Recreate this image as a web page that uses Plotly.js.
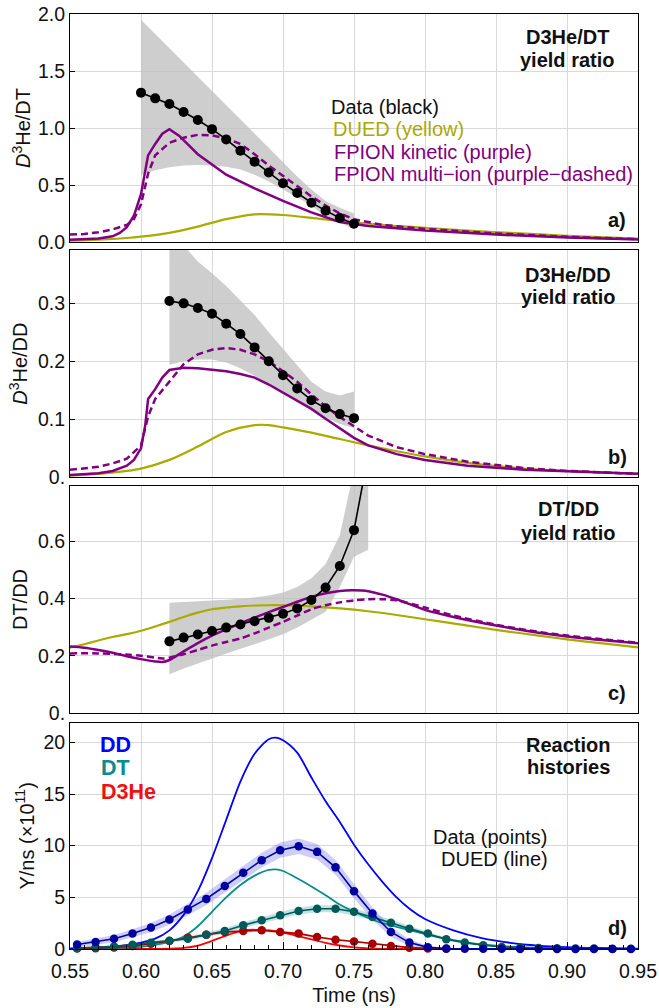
<!DOCTYPE html>
<html>
<head>
<meta charset="utf-8">
<script src="https://cdn.plot.ly/plotly-3.0.1.min.js"></script>
<style>html,body{margin:0;padding:0;background:#fff;}#chart{width:659px;height:1008px;}</style>
</head>
<body>
<div id="chart"></div>
<script>
// ---------- Panel a: D3He/DT yield ratio ----------
const tA_data = [0.60,0.61,0.62,0.63,0.64,0.65,0.66,0.67,0.68,0.69,0.70,0.71,0.72,0.73,0.74,0.75];
const a_data  = [1.31,1.26,1.21,1.14,1.07,0.99,0.90,0.80,0.705,0.61,0.515,0.43,0.345,0.275,0.21,0.16];
const a_bandHi = [1.95,1.825,1.70,1.575,1.45,1.325,1.20,1.075,0.95,0.825,0.70,0.575,0.46,0.36,0.30,0.25];
const a_bandLo = [0.585,0.63,0.655,0.67,0.675,0.672,0.66,0.635,0.59,0.53,0.46,0.39,0.32,0.22,0.17,0.11];
const tA_dued = [0.55,0.57,0.59,0.60,0.62,0.64,0.66,0.68,0.70,0.72,0.74,0.76,0.78,0.80,0.83,0.86,0.90,0.95];
const a_dued  = [0.012,0.02,0.035,0.047,0.08,0.135,0.20,0.243,0.237,0.212,0.183,0.16,0.14,0.125,0.10,0.08,0.055,0.03];
const tA_kin = [0.55,0.56,0.57,0.58,0.585,0.59,0.595,0.60,0.605,0.61,0.615,0.62,0.627,0.64,0.66,0.68,0.70,0.72,0.74,0.76,0.78,0.80,0.85,0.90,0.95];
const a_kin  = [0.02,0.024,0.03,0.05,0.08,0.13,0.23,0.42,0.76,0.86,0.95,0.99,0.93,0.77,0.59,0.47,0.36,0.26,0.175,0.14,0.12,0.10,0.065,0.04,0.022];
const tA_multi = [0.55,0.56,0.57,0.58,0.59,0.595,0.60,0.605,0.61,0.62,0.63,0.64,0.65,0.66,0.67,0.68,0.69,0.70,0.71,0.72,0.73,0.74,0.75,0.77,0.80,0.85,0.90,0.95];
const a_multi  = [0.065,0.07,0.085,0.11,0.15,0.2,0.33,0.6,0.76,0.87,0.915,0.94,0.935,0.91,0.86,0.77,0.67,0.58,0.49,0.40,0.32,0.25,0.20,0.15,0.115,0.075,0.045,0.025];

// ---------- Panel b: D3He/DD yield ratio ----------
const tB_data = [0.62,0.63,0.64,0.65,0.66,0.67,0.68,0.69,0.70,0.71,0.72,0.73,0.74,0.75];
const b_data  = [0.304,0.300,0.292,0.282,0.265,0.247,0.224,0.200,0.176,0.153,0.133,0.119,0.109,0.102];
const b_bandHi = [0.45,0.40,0.372,0.352,0.33,0.305,0.28,0.25,0.222,0.193,0.165,0.148,0.141,0.148];
const b_bandLo = [0.194,0.20,0.203,0.203,0.198,0.188,0.175,0.16,0.145,0.13,0.116,0.103,0.092,0.085];
const tB_dued = [0.55,0.57,0.59,0.60,0.62,0.64,0.66,0.68,0.69,0.70,0.72,0.74,0.76,0.78,0.80,0.83,0.87,0.90,0.95];
const b_dued  = [0.003,0.006,0.011,0.015,0.03,0.053,0.078,0.09,0.09,0.086,0.077,0.066,0.055,0.045,0.036,0.025,0.015,0.011,0.006];
const tB_kin = [0.55,0.56,0.57,0.58,0.59,0.595,0.60,0.603,0.605,0.61,0.615,0.62,0.63,0.64,0.65,0.66,0.67,0.68,0.69,0.70,0.71,0.72,0.73,0.74,0.75,0.76,0.78,0.80,0.83,0.87,0.90,0.95];
const b_kin  = [0.004,0.005,0.007,0.011,0.02,0.03,0.05,0.09,0.135,0.152,0.172,0.185,0.189,0.188,0.186,0.183,0.178,0.172,0.16,0.146,0.133,0.118,0.101,0.084,0.068,0.055,0.04,0.03,0.02,0.013,0.01,0.006];
const tB_multi = [0.55,0.56,0.57,0.58,0.59,0.60,0.605,0.61,0.62,0.63,0.64,0.65,0.66,0.67,0.68,0.69,0.70,0.71,0.72,0.73,0.74,0.75,0.76,0.78,0.80,0.83,0.87,0.90,0.95];
const b_multi  = [0.013,0.015,0.018,0.024,0.032,0.055,0.105,0.135,0.165,0.195,0.212,0.22,0.223,0.22,0.212,0.20,0.183,0.165,0.143,0.122,0.104,0.088,0.072,0.052,0.04,0.027,0.016,0.011,0.006];

// ---------- Panel c: DT/DD yield ratio ----------
const tC_data = [0.62,0.63,0.64,0.65,0.66,0.67,0.68,0.69,0.70,0.71,0.72,0.73,0.74,0.75,0.76];
const c_data  = [0.25,0.263,0.274,0.286,0.298,0.309,0.32,0.332,0.346,0.365,0.394,0.438,0.513,0.638,0.90];
const c_bandHi = [0.385,0.387,0.39,0.392,0.395,0.399,0.403,0.41,0.42,0.44,0.47,0.52,0.62,0.85,1.0];
const c_bandLo = [0.135,0.155,0.172,0.19,0.207,0.224,0.24,0.257,0.275,0.298,0.325,0.353,0.44,0.545,0.57];
const tC_dued = [0.55,0.56,0.57,0.58,0.59,0.60,0.61,0.62,0.63,0.64,0.65,0.66,0.67,0.68,0.69,0.70,0.72,0.74,0.76,0.78,0.80,0.83,0.85,0.88,0.90,0.93,0.95];
const c_dued  = [0.228,0.24,0.253,0.265,0.275,0.287,0.302,0.318,0.335,0.35,0.362,0.368,0.372,0.375,0.376,0.376,0.372,0.365,0.355,0.342,0.327,0.305,0.29,0.27,0.257,0.24,0.229];
const tC_kin = [0.55,0.56,0.57,0.58,0.59,0.60,0.61,0.615,0.62,0.63,0.64,0.65,0.66,0.67,0.68,0.69,0.70,0.71,0.72,0.73,0.74,0.75,0.76,0.77,0.78,0.80,0.82,0.85,0.88,0.90,0.93,0.95];
const c_kin  = [0.232,0.228,0.22,0.21,0.198,0.188,0.18,0.178,0.185,0.215,0.244,0.27,0.292,0.313,0.333,0.352,0.37,0.388,0.405,0.418,0.426,0.428,0.425,0.413,0.397,0.36,0.335,0.305,0.28,0.267,0.252,0.243];
const tC_multi = [0.55,0.57,0.59,0.60,0.61,0.615,0.62,0.63,0.64,0.65,0.66,0.67,0.68,0.69,0.70,0.71,0.72,0.73,0.74,0.75,0.76,0.77,0.78,0.80,0.82,0.85,0.88,0.90,0.93,0.95];
const c_multi  = [0.208,0.208,0.204,0.2,0.193,0.19,0.193,0.205,0.22,0.235,0.248,0.26,0.278,0.298,0.318,0.34,0.362,0.376,0.386,0.393,0.397,0.397,0.393,0.368,0.34,0.308,0.283,0.27,0.255,0.245];

// ---------- Panel d: reaction histories (Y/ns x1e11) ----------
const tD_data = [0.555,0.568,0.581,0.594,0.607,0.620,0.633,0.646,0.659,0.672,0.685,0.698,0.711,0.724,0.737,0.750,0.763,0.776,0.789,0.802,0.815,0.828,0.841,0.854,0.867,0.880,0.893,0.906,0.919,0.932,0.945];
const dd_data = [0.43,0.68,1.0,1.5,2.07,2.85,3.82,4.85,6.1,7.37,8.6,9.56,9.95,9.4,7.9,5.6,3.43,1.65,0.62,0.16,0.05,0.03,0.02,0.02,0.01,0.01,0.01,0.01,0.01,0.01,0.01];
const dd_err  = [0.25,0.3,0.35,0.4,0.45,0.5,0.55,0.6,0.65,0.7,0.72,0.74,0.75,0.75,0.72,0.68,0.6,0.48,0.32,0.15,0.06,0.03,0.02,0.02,0.02,0.02,0.02,0.02,0.02,0.02,0.02];
const dt_data = [0.1,0.15,0.25,0.42,0.6,0.8,1.0,1.38,1.75,2.3,2.78,3.27,3.68,3.9,3.9,3.6,3.1,2.55,1.97,1.49,0.94,0.62,0.36,0.2,0.13,0.1,0.07,0.05,0.04,0.03,0.02];
const dt_err  = [0.05,0.07,0.09,0.12,0.15,0.18,0.2,0.22,0.25,0.28,0.3,0.32,0.33,0.34,0.34,0.33,0.3,0.27,0.23,0.19,0.14,0.1,0.07,0.05,0.04,0.03,0.03,0.02,0.02,0.02,0.02];
const tD_d3heData = [0.555,0.568,0.581,0.594,0.607,0.620,0.633,0.646,0.659,0.672,0.685,0.698,0.711,0.724,0.737,0.750,0.763,0.776,0.789,0.802,0.815];
const d3he_data = [0.05,0.08,0.15,0.3,0.5,0.78,1.1,1.38,1.65,1.75,1.81,1.65,1.49,1.16,0.9,0.72,0.5,0.29,0.13,0.06,0.03];
const d3he_err  = [0.03,0.04,0.05,0.06,0.08,0.1,0.12,0.13,0.14,0.15,0.15,0.15,0.14,0.12,0.1,0.09,0.07,0.05,0.03,0.02,0.02];
const tD_dd = [0.55,0.56,0.57,0.58,0.59,0.60,0.61,0.62,0.63,0.64,0.65,0.66,0.67,0.68,0.69,0.695,0.70,0.71,0.72,0.73,0.74,0.75,0.76,0.77,0.78,0.79,0.80,0.82,0.84,0.86,0.88,0.90,0.92,0.95];
const dd_dued = [0.05,0.08,0.13,0.22,0.38,0.62,1.0,1.8,3.3,5.6,8.8,12.5,16.2,18.9,20.3,20.45,20.2,19.0,16.6,14.3,12.3,10.1,8.2,6.5,5.0,3.8,2.9,1.8,1.05,0.6,0.33,0.18,0.1,0.04];
const tD_dt = [0.55,0.57,0.59,0.60,0.61,0.62,0.63,0.64,0.65,0.66,0.67,0.68,0.69,0.695,0.70,0.71,0.72,0.73,0.74,0.75,0.76,0.77,0.78,0.79,0.80,0.81,0.82,0.83,0.84,0.86,0.88,0.90,0.95];
const dt_dued = [0.02,0.05,0.13,0.22,0.4,0.7,1.2,2.2,3.6,5.0,6.2,7.1,7.65,7.7,7.55,6.85,6.05,5.2,4.3,3.6,3.0,2.5,2.15,1.8,1.45,1.12,0.85,0.62,0.45,0.22,0.1,0.05,0.01];
const tD_d3he = [0.55,0.60,0.62,0.63,0.64,0.65,0.66,0.67,0.675,0.68,0.69,0.70,0.71,0.72,0.73,0.74,0.75,0.76,0.78,0.80,0.95];
const d3he_dued = [0,0.01,0.04,0.1,0.33,0.78,1.3,1.72,1.84,1.86,1.8,1.58,1.27,0.93,0.6,0.34,0.16,0.06,0.01,0,0];

// ---------- tick labels ----------
const xTickVals = [0.55,0.60,0.65,0.70,0.75,0.80,0.85,0.90,0.95];
const xTickText = ['0.55','0.60','0.65','0.70','0.75','0.80','0.85','0.90','0.95'];
const aTickVals = [0,0.5,1.0,1.5,2.0];
const aTickText = ['0.0','0.5','1.0','1.5','2.0'];
const bTickVals = [0,0.1,0.2,0.3];
const bTickText = ['0.','0.1','0.2','0.3'];
const cTickVals = [0,0.2,0.4,0.6];
const cTickText = ['0.','0.2','0.4','0.6'];
const dTickVals = [0,5,10,15,20];
const dTickText = ['0','5','10','15','20'];

// ---------- styles ----------
const YELLOW = '#aaaa00', PURPLE = '#800080', GRAY = 'rgba(190,190,190,0.75)';
const FONT = 'Liberation Sans, Arial, sans-serif';

function band(t, hi, lo, xa, ya, color) {
  return {x: t.concat(t.slice().reverse()), y: hi.concat(lo.slice().reverse()), xaxis: xa, yaxis: ya,
    type: 'scatter', mode: 'lines', fill: 'toself', fillcolor: color, line: {width: 0}, hoverinfo: 'skip'};
}
function curve(t, v, xa, ya, color, width, dash, shape) {
  return {x: t, y: v, xaxis: xa, yaxis: ya, type: 'scatter', mode: 'lines',
    line: {color: color, width: width, dash: dash || 'solid', shape: shape || 'spline', smoothing: 0.8}};
}
function pts(t, v, xa, ya, color, size, clip) {
  return {x: t, y: v, xaxis: xa, yaxis: ya, type: 'scatter', mode: 'lines+markers', cliponaxis: clip,
    line: {color: color, width: 1.6}, marker: {color: color, size: size}};
}
function addErr(v, e, s) { return v.map((y, i) => y + s * e[i]); }

const traces = [
  // a
  band(tA_data, a_bandHi, a_bandLo, 'x', 'y', GRAY),
  curve(tA_dued, a_dued, 'x', 'y', YELLOW, 2.2),
  curve(tA_kin, a_kin, 'x', 'y', PURPLE, 2.5, 'solid', 'linear'),
  curve(tA_multi, a_multi, 'x', 'y', PURPLE, 2.5, '7px,4px', 'linear'),
  pts(tA_data, a_data, 'x', 'y', 'black', 10, true),
  // b
  band(tB_data, b_bandHi, b_bandLo, 'x2', 'y2', GRAY),
  curve(tB_dued, b_dued, 'x2', 'y2', YELLOW, 2.2),
  curve(tB_kin, b_kin, 'x2', 'y2', PURPLE, 2.5, 'solid', 'linear'),
  curve(tB_multi, b_multi, 'x2', 'y2', PURPLE, 2.5, '7px,4px', 'linear'),
  pts(tB_data, b_data, 'x2', 'y2', 'black', 10, true),
  // c
  band(tC_data, c_bandHi, c_bandLo, 'x3', 'y3', GRAY),
  curve(tC_dued, c_dued, 'x3', 'y3', YELLOW, 2.2),
  curve(tC_kin, c_kin, 'x3', 'y3', PURPLE, 2.5),
  curve(tC_multi, c_multi, 'x3', 'y3', PURPLE, 2.5, '7px,4px'),
  pts(tC_data, c_data, 'x3', 'y3', 'black', 10, true),
  // d
  band(tD_data, addErr(dd_data, dd_err, 1), addErr(dd_data, dd_err, -1), 'x4', 'y4', 'rgba(90,90,235,0.30)'),
  band(tD_data, addErr(dt_data, dt_err, 1), addErr(dt_data, dt_err, -1), 'x4', 'y4', 'rgba(0,140,140,0.25)'),
  band(tD_d3heData, addErr(d3he_data, d3he_err, 1), addErr(d3he_data, d3he_err, -1), 'x4', 'y4', 'rgba(230,0,0,0.22)'),
  curve(tD_d3he, d3he_dued, 'x4', 'y4', '#ff0000', 1.8),
  curve(tD_dt, dt_dued, 'x4', 'y4', '#0a8c8c', 1.8),
  curve(tD_dd, dd_dued, 'x4', 'y4', '#0000ff', 1.8),
  pts(tD_d3heData, d3he_data, 'x4', 'y4', '#a80000', 8.5, false),
  pts(tD_data, dt_data, 'x4', 'y4', '#005a5a', 8.5, false),
  pts(tD_data, dd_data, 'x4', 'y4', '#0000a0', 8.5, false)
];

// plot area: left 70, right 638, top 14, bottom 949  (paper height 935)
const PH = 935, PW = 568;
function py(p) { return (949 - p) / PH; }
function px(p) { return (p - 70) / PW; }

const baseAxis = {showline: true, mirror: true, linecolor: 'black', linewidth: 1, showgrid: true,
  gridcolor: '#d9d9d9', gridwidth: 1, zeroline: false, tickfont: {size: 19.5, color: '#111', family: FONT}};
function xAx(anchor) {
  return Object.assign({}, baseAxis, {anchor: anchor, range: [0.55, 0.95], tickvals: xTickVals, ticktext: xTickText,
    showticklabels: false, ticks: ''});
}
function yAx(dom, range, tv, tt, title, anchor, standoff) {
  return Object.assign({}, baseAxis, {domain: dom, range: range, tickvals: tv, ticktext: tt, anchor: anchor,
    ticks: 'inside', ticklen: 5, tickcolor: 'black',
    title: {text: title, font: {size: 20, family: FONT, color: '#111'}, standoff: standoff}});
}

const xd = xAx('y4');
Object.assign(xd, {showticklabels: true, ticks: 'inside', ticklen: 7, tickcolor: 'black', ticklabelstandoff: 5,
  minor: {dtick: 0.01, tick0: 0.55, ticks: 'inside', ticklen: 4, tickcolor: 'black', showgrid: false},
  title: {text: 'Time (ns)', font: {size: 20, family: FONT, color: '#111'}, standoff: 6}});

function ann(text, x, y, opts) {
  return Object.assign({text: text, xref: 'paper', yref: 'paper', x: px(x), y: py(y), showarrow: false,
    xanchor: 'center', yanchor: 'middle', font: {size: 20, family: FONT, color: '#111'}}, opts || {});
}
function boldAnn(text, x, y) { return ann('<b>' + text + '</b>', x, y); }

const annotations = [
  boldAnn('D3He/DT', 567, 37), boldAnn('yield ratio', 567, 60),
  ann('Data (black)', 329, 107, {xanchor: 'left'}),
  ann('DUED (yellow)', 331, 129, {xanchor: 'left', font: {size: 20, family: FONT, color: YELLOW}}),
  ann('FPION kinetic (purple)', 332, 152, {xanchor: 'left', font: {size: 20, family: FONT, color: PURPLE}}),
  ann('FPION multi\u2212ion (purple\u2212dashed)', 332, 174, {xanchor: 'left', font: {size: 20, family: FONT, color: PURPLE}}),
  boldAnn('a)', 617, 220),
  boldAnn('D3He/DD', 568, 275), boldAnn('yield ratio', 568, 297),
  boldAnn('b)', 617, 457),
  boldAnn('DT/DD', 568, 509), boldAnn('yield ratio', 568, 533),
  boldAnn('c)', 617, 693),
  boldAnn('Reaction', 568, 745), boldAnn('histories', 568, 767),
  ann('Data (points)', 550, 837, {xanchor: 'right'}),
  ann('DUED (line)', 550, 859, {xanchor: 'right'}),
  ann('<b>DD</b>', 98, 745, {xanchor: 'left', font: {size: 21.5, family: FONT, color: '#0000ff'}}),
  ann('<b>DT</b>', 99, 768, {xanchor: 'left', font: {size: 21.5, family: FONT, color: '#0a8c8c'}}),
  ann('<b>D3He</b>', 99, 792, {xanchor: 'left', font: {size: 21.5, family: FONT, color: '#ee1111'}}),
  boldAnn('d)', 617, 928)
];

const layout = {
  width: 659, height: 1008,
  margin: {l: 70, r: 21, t: 14, b: 59, pad: 0},
  paper_bgcolor: 'white', plot_bgcolor: 'white',
  showlegend: false,
  font: {family: FONT, color: '#111'},
  xaxis: xAx('y'), xaxis2: xAx('y2'), xaxis3: xAx('y3'), xaxis4: xd,
  yaxis: yAx([py(242), 1], [0, 2.0], aTickVals, aTickText, '<i>D</i><sup>3</sup>He/DT', 'x', 1),
  yaxis2: yAx([py(477.3), py(250)], [0, 0.392], bTickVals, bTickText, '<i>D</i><sup>3</sup>He/DD', 'x2', 4),
  yaxis3: yAx([py(713), py(486)], [0, 0.792], cTickVals, cTickText, 'DT/DD', 'x3', 4),
  yaxis4: yAx([0, py(722.7)], [0, 21.9], dTickVals, dTickText, 'Y/ns (\u00d710<sup>11</sup>)', 'x4', 3),
  annotations: annotations
};

Plotly.newPlot('chart', traces, layout, {displayModeBar: false, staticPlot: true});
</script>
</body>
</html>
